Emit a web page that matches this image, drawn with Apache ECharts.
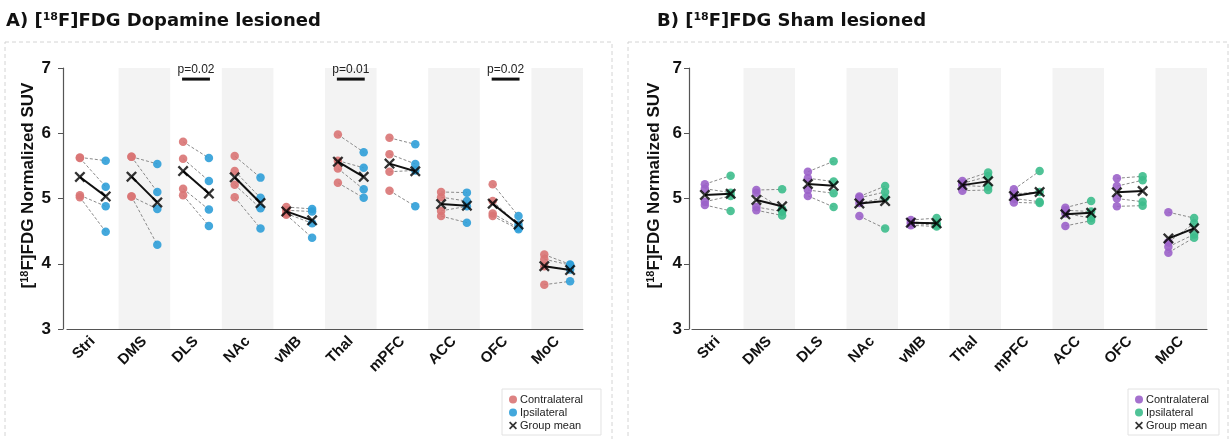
<!DOCTYPE html>
<html>
<head>
<meta charset="utf-8">
<script src="https://cdn.jsdelivr.net/npm/echarts@6/dist/echarts.min.js"></script>
<style>
  html, body { margin: 0; padding: 0; background: #fff; }
  #chart { width: 1231px; height: 439px; }
</style>
</head>
<body>
<div id="chart"></div>
<script>
// brain regions on the x axis
const regions = ["Stri", "DMS", "DLS", "NAc", "vMB", "Thal", "mPFC", "ACC", "OFC", "MoC"];

// A) dopamine lesioned, one value per animal (n = 4)
const lesionContra = [
    [5.63, 5.62, 5.05, 5.02],
    [5.64, 5.64, 5.03, 5.03],
    [5.87, 5.61, 5.15, 5.05],
    [5.65, 5.42, 5.21, 5.02],
    [4.87, 4.82, 4.77, 4.75],
    [5.98, 5.58, 5.46, 5.24],
    [5.93, 5.68, 5.41, 5.12],
    [5.10, 5.02, 4.81, 4.73],
    [5.22, 4.96, 4.77, 4.73],
    [4.14, 4.07, 3.96, 3.68]
];
const lesionIpsi = [
    [5.58, 5.18, 4.88, 4.49],
    [5.53, 5.10, 4.84, 4.29],
    [5.62, 5.27, 4.83, 4.58],
    [5.32, 5.01, 4.85, 4.54],
    [4.84, 4.80, 4.62, 4.40],
    [5.71, 5.47, 5.14, 5.01],
    [5.83, 5.53, 5.43, 4.88],
    [5.09, 4.96, 4.88, 4.63],
    [4.73, 4.60, 4.55, 4.53],
    [3.99, 3.98, 3.91, 3.73]
];

// B) sham lesioned
const shamContra = [
    [5.22, 5.15, 4.95, 4.90],
    [5.13, 5.09, 4.87, 4.82],
    [5.41, 5.31, 5.13, 5.04],
    [5.03, 5.01, 4.93, 4.73],
    [4.67, 4.64, 4.62, 4.59],
    [5.27, 5.23, 5.20, 5.12],
    [5.14, 5.07, 5.00, 4.94],
    [4.86, 4.82, 4.77, 4.58],
    [5.31, 5.19, 5.00, 4.88],
    [4.79, 4.33, 4.26, 4.17]
];
const shamIpsi = [
    [5.35, 5.09, 5.04, 4.81],
    [5.14, 4.84, 4.80, 4.74],
    [5.57, 5.26, 5.08, 4.87],
    [5.19, 5.10, 5.01, 4.54],
    [4.70, 4.62, 4.59, 4.57],
    [5.40, 5.34, 5.18, 5.13],
    [5.42, 5.10, 4.95, 4.93],
    [4.96, 4.80, 4.70, 4.66],
    [5.34, 5.28, 4.95, 4.89],
    [4.70, 4.62, 4.45, 4.40]
];

// significance bars (panel A only)
const sigIndex = [2, 5, 8];
const sigText = ["p=0.02", "p=0.01", "p=0.02"];
const sigLevel = 6.83;

const yTicks = [3, 4, 5, 6, 7];

const OFF = 0.25;
const XPATH = "path://M0,3 L3,0 L10,7 L17,0 L20,3 L13,10 L20,17 L17,20 L10,13 L3,20 L0,17 L7,10 Z";
const FONT = "'Liberation Sans', Arial, sans-serif";
const HEAVY = "'DejaVu Sans', 'Liberation Sans', sans-serif";

const chart = echarts.init(document.getElementById("chart"));

function mean(a) {
    return a.reduce((s, v) => s + v, 0) / a.length;
}

function buildPanel(p, contra, ipsi, cColor, iColor) {
    const cPts = [], iPts = [], pairs = [], means = [], meanLines = [];
    contra.forEach((vals, i) => {
        vals.forEach((v, k) => {
            cPts.push([i - OFF, v]);
            iPts.push([i + OFF, ipsi[i][k]]);
            pairs.push([i, v, ipsi[i][k]]);
        });
        const mc = mean(vals), mi = mean(ipsi[i]);
        means.push([i - OFF, mc], [i + OFF, mi]);
        meanLines.push([i, mc, mi]);
    });
    const lineItem = (stroke, width, dash) => function (params, api) {
        const x = api.value(0);
        const a = api.coord([x - OFF, api.value(1)]);
        const b = api.coord([x + OFF, api.value(2)]);
        return {
            type: "line",
            shape: { x1: a[0], y1: a[1], x2: b[0], y2: b[1] },
            style: { stroke: stroke, lineWidth: width, lineDash: dash }
        };
    };
    const axis = { xAxisIndex: p * 2 + 1, yAxisIndex: p };
    return [
        Object.assign({
            type: "custom", name: "pairs" + p, silent: true, z: 2,
            renderItem: lineItem("#8a8a8a", 1, [3, 2]),
            encode: { x: 0, y: [1, 2] },
            data: pairs
        }, axis),
        Object.assign({
            type: "scatter", name: "Contralateral", symbolSize: 8.5, z: 3,
            itemStyle: { color: cColor, opacity: 0.9 },
            data: cPts
        }, axis),
        Object.assign({
            type: "scatter", name: "Ipsilateral", symbolSize: 8.5, z: 3,
            itemStyle: { color: iColor, opacity: 0.9 },
            data: iPts
        }, axis),
        Object.assign({
            type: "custom", name: "meanline" + p, silent: true, z: 4,
            renderItem: lineItem("#111", 2, null),
            encode: { x: 0, y: [1, 2] },
            data: meanLines
        }, axis),
        Object.assign({
            type: "scatter", name: "Group mean", symbol: XPATH, symbolSize: 11, z: 5,
            itemStyle: { color: "#000" },
            data: means
        }, axis)
    ];
}

function sigSeries() {
    return {
        type: "custom", silent: true, xAxisIndex: 1, yAxisIndex: 0, z: 6,
        data: sigIndex.map((c, k) => [c, sigLevel, k]),
        encode: { x: 0, y: 1 },
        renderItem: function (params, api) {
            const a = api.coord([api.value(0) - 0.27, api.value(1)]);
            const b = api.coord([api.value(0) + 0.27, api.value(1)]);
            return {
                type: "group",
                children: [
                    { type: "line", shape: { x1: a[0], y1: a[1], x2: b[0], y2: b[1] },
                      style: { stroke: "#111", lineWidth: 3 } },
                    { type: "text", x: (a[0] + b[0]) / 2, y: a[1] - 3,
                      style: { text: sigText[api.value(2)], fill: "#222", fontSize: 12,
                               fontFamily: FONT, align: "center", verticalAlign: "bottom" } }
                ]
            };
        }
    };
}

function catAxis(g) {
    return {
        type: "category", gridIndex: g, data: regions, boundaryGap: true,
        axisLine: { lineStyle: { color: "#555", width: 1.2 } },
        axisTick: { alignWithLabel: true, length: 5, lineStyle: { color: "#555" } },
        axisLabel: { rotate: 45, fontSize: 15, fontWeight: "bold", color: "#111", fontFamily: FONT, margin: 10 },
        splitArea: { show: true, areaStyle: { color: ["rgba(255,255,255,0)", "#f3f3f3"] } }
    };
}
function valXAxis(g) {
    return { type: "value", gridIndex: g, min: -0.5, max: 9.5, show: false };
}
function yAx(g, off, labelMargin, gap) {
    return {
        type: "value", gridIndex: g, min: yTicks[0], max: yTicks[yTicks.length - 1], interval: 1,
        offset: off,
        name: "[{sup|18}F]FDG Normalized SUV", nameLocation: "middle", nameGap: gap,
        nameTextStyle: {
            fontSize: 17, fontWeight: "bold", color: "#111", fontFamily: FONT,
            padding: [0, 0, 0, 26],
            rich: { sup: { fontSize: 11, fontWeight: "bold", color: "#111", fontFamily: FONT, padding: [0, 0, 8, 0] } }
        },
        axisLine: { show: true, onZero: false, lineStyle: { color: "#555", width: 1.2 } },
        axisTick: { show: true, length: 5, lineStyle: { color: "#555" } },
        axisLabel: { fontSize: 17, fontWeight: "bold", color: "#111", fontFamily: FONT, margin: labelMargin },
        splitLine: { show: false }
    };
}

const titleRich = {
    sup: { fontSize: 11, fontWeight: "bold", color: "#111", fontFamily: HEAVY, padding: [0, 0, 8, 0] }
};

const option = {
    animation: false,
    backgroundColor: "#fff",
    title: [
        { text: "A) [{sup|18}F]FDG Dopamine lesioned", left: 1, top: 7,
          textStyle: { fontSize: 18, fontWeight: "bold", color: "#111", fontFamily: HEAVY, rich: titleRich } },
        { text: "B) [{sup|18}F]FDG Sham lesioned", left: 652, top: 7,
          textStyle: { fontSize: 18, fontWeight: "bold", color: "#111", fontFamily: HEAVY, rich: titleRich } }
    ],
    graphic: [
        { type: "rect", shape: { x: 5, y: 42, width: 607, height: 402 }, silent: true, z: -1,
          style: { fill: "none", stroke: "#d4d4d4", lineDash: [4, 3] } },
        { type: "rect", shape: { x: 628, y: 42, width: 600, height: 402 }, silent: true, z: -1,
          style: { fill: "none", stroke: "#d4d4d4", lineDash: [4, 3] } }
    ],
    legend: [
        {
            orient: "vertical", left: 502, top: 389, padding: [5, 18, 4, 7], itemGap: 2,
            itemWidth: 8, itemHeight: 8, borderColor: "#e2e2e2", borderWidth: 1, backgroundColor: "#fff",
            textStyle: { fontSize: 11, color: "#222", fontFamily: FONT, padding: [0, 0, 0, -2] },
            selectedMode: false,
            data: [
                { name: "Contralateral", icon: "circle", itemStyle: { color: "#d97474" } },
                { name: "Ipsilateral", icon: "circle", itemStyle: { color: "#2f9fd8" } },
                { name: "Group mean", icon: XPATH, itemStyle: { color: "#000" } }
            ]
        },
        {
            orient: "vertical", left: 1128, top: 389, padding: [5, 10, 4, 7], itemGap: 2,
            itemWidth: 8, itemHeight: 8, borderColor: "#e2e2e2", borderWidth: 1, backgroundColor: "#fff",
            textStyle: { fontSize: 11, color: "#222", fontFamily: FONT, padding: [0, 0, 0, -2] },
            selectedMode: false,
            data: [
                { name: "Contralateral", icon: "circle", itemStyle: { color: "#9b62c9" } },
                { name: "Ipsilateral", icon: "circle", itemStyle: { color: "#3dbd8c" } },
                { name: "Group mean", icon: XPATH, itemStyle: { color: "#000" } }
            ]
        }
    ],
    grid: [
        { left: 67, top: 68, width: 516, height: 261 },
        { left: 692, top: 68, width: 515, height: 261 }
    ],
    xAxis: [catAxis(0), valXAxis(0), catAxis(1), valXAxis(1)],
    yAxis: [yAx(0, 4, 12, 25), yAx(1, 3, 7, 25)],
    series: [].concat(
        buildPanel(0, lesionContra, lesionIpsi, "#d97474", "#2f9fd8"),
        [sigSeries()],
        buildPanel(1, shamContra, shamIpsi, "#9b62c9", "#3dbd8c")
    )
};

chart.setOption(option);
window.addEventListener("resize", () => chart.resize());
</script>
</body>
</html>
